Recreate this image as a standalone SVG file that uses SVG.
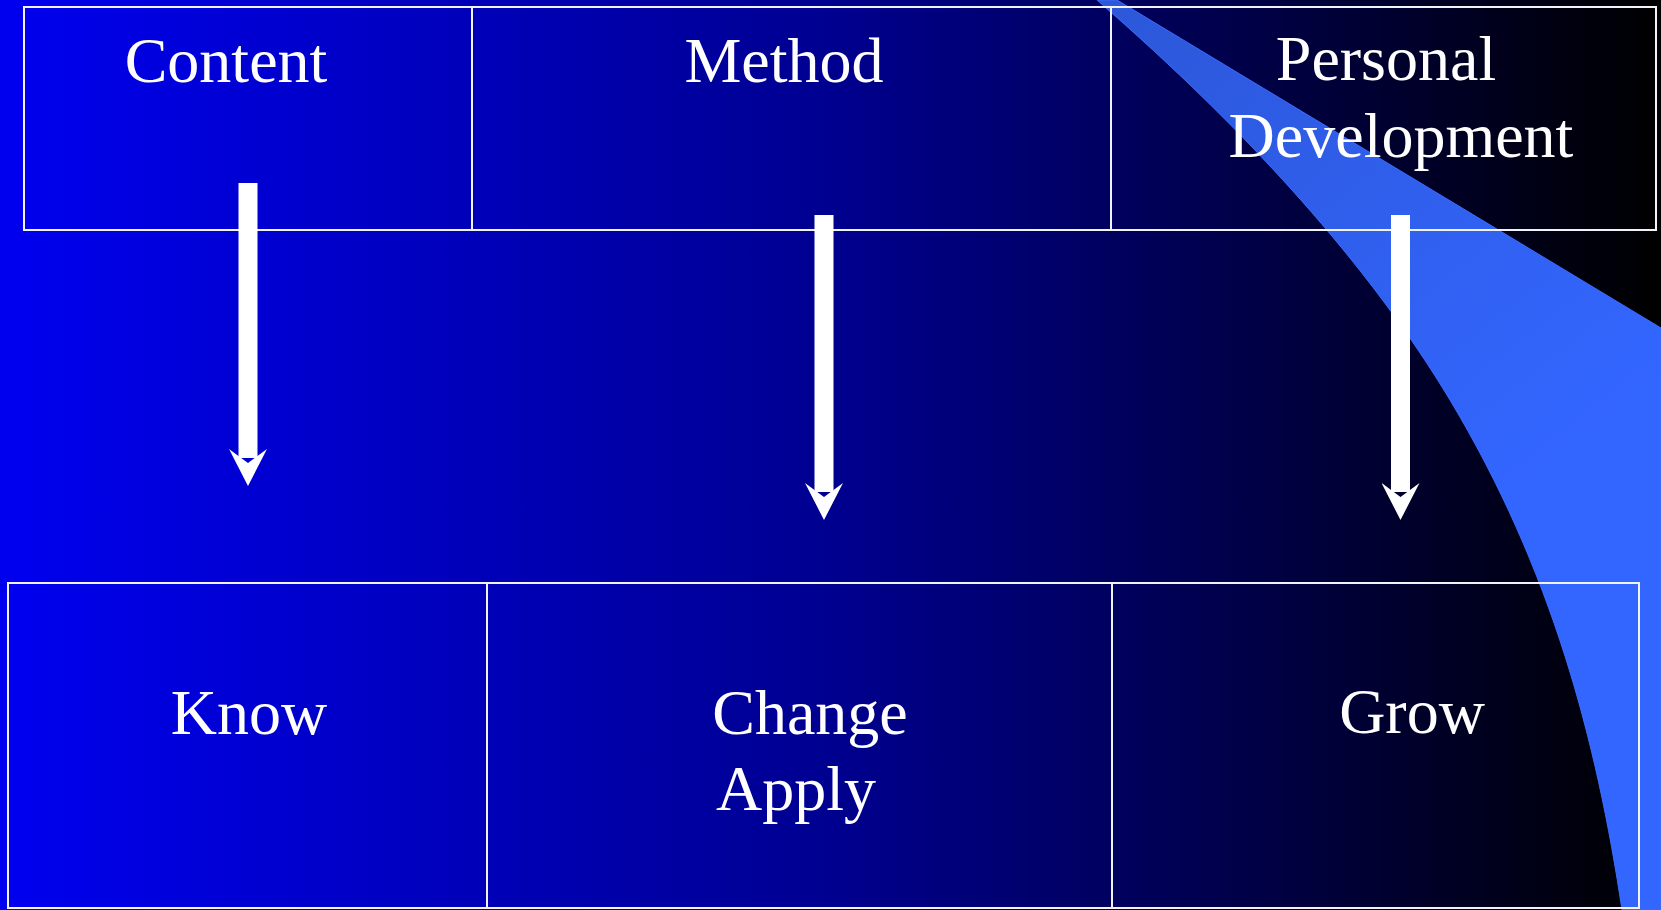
<svg xmlns="http://www.w3.org/2000/svg" width="1661" height="910" viewBox="0 0 1661 910">
<style>
.cell{fill:none;stroke:#F2F2FA;stroke-width:2}
.lbl{font-family:"Liberation Serif","Times New Roman",serif;font-size:64px;fill:#FFFFFF;text-anchor:middle}
.shaft{stroke:#FFFFFF;stroke-width:19;fill:none}
</style>
<defs>
<linearGradient id="bg" x1="0" y1="0" x2="1661" y2="0" gradientUnits="userSpaceOnUse">
<stop offset="0" stop-color="#0000F0"/>
<stop offset="0.5" stop-color="#000090"/>
<stop offset="1" stop-color="#000000"/>
</linearGradient>
<linearGradient id="sw" x1="1100" y1="0" x2="1500" y2="500" gradientUnits="userSpaceOnUse">
<stop offset="0" stop-color="#2C57D8"/>
<stop offset="1" stop-color="#3366FF"/>
</linearGradient>
<marker id="ah" viewBox="-14 -19 38 38" markerWidth="38" markerHeight="38" markerUnits="userSpaceOnUse" refX="-5" refY="0" orient="auto">
<path d="M-14,-19 L0,0 L-14,19 L23,0 Z" fill="#FFFFFF"/>
</marker>
</defs>
<rect x="0" y="0" width="1661" height="910" fill="url(#bg)"/>
<path d="M1097,0 C1250,133 1370,267 1450,400 C1552,570 1596.5,740 1622,910 L1661,910 L1661,328 L1117,0 Z" fill="url(#sw)" stroke="#3A6CFF" stroke-width="1"/>
<g id="node-content">
<rect class="cell" x="24" y="7" width="448" height="223"/>
<text class="lbl" x="226" y="82">Content</text>
</g>
<g id="node-method">
<rect class="cell" x="472" y="7" width="639" height="223"/>
<text class="lbl" x="784" y="82">Method</text>
</g>
<g id="node-personal">
<rect class="cell" x="1111" y="7" width="545" height="223"/>
<text class="lbl" x="1386" y="80">Personal</text>
<text class="lbl" x="1401" y="157">Development</text>
</g>
<g id="node-know">
<rect class="cell" x="8" y="583" width="479" height="325"/>
<text class="lbl" x="249" y="734">Know</text>
</g>
<g id="node-change">
<rect class="cell" x="487" y="583" width="625" height="325"/>
<text class="lbl" x="810" y="734">Change</text>
<text class="lbl" x="796" y="810">Apply</text>
</g>
<g id="node-grow">
<rect class="cell" x="1112" y="583" width="527" height="325"/>
<text class="lbl" x="1412" y="733">Grow</text>
</g>
<g id="connectors">
<line class="shaft" x1="248" y1="183" x2="248" y2="458" marker-end="url(#ah)"/>
<line class="shaft" x1="824" y1="215" x2="824" y2="492" marker-end="url(#ah)"/>
<line class="shaft" x1="1400.5" y1="215" x2="1400.5" y2="492" marker-end="url(#ah)"/>
</g>
</svg>
